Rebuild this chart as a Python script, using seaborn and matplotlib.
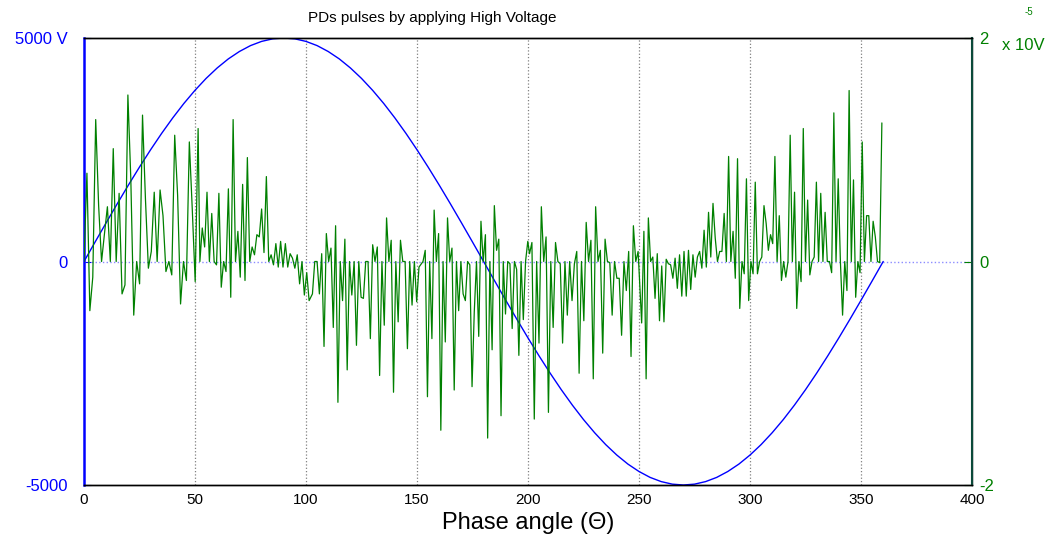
import numpy as np
import pandas as pd
import matplotlib
matplotlib.use('Agg')
import matplotlib.pyplot as plt
import seaborn as sns

# applied high voltage, read every 5 degrees (V)
hv_phase = np.arange(0, 361, 5)
hv_volts = [0, 436, 868, 1294, 1710, 2113, 2500, 2868, 3214, 3536, 3830, 4096, 4330,
            4532, 4698, 4830, 4924, 4981, 5000, 4981, 4924, 4830, 4698, 4532, 4330,
            4096, 3830, 3536, 3214, 2868, 2500, 2113, 1710, 1294, 868, 436, 0,
            -436, -868, -1294, -1710, -2113, -2500, -2868, -3214, -3536, -3830, -4096,
            -4330, -4532, -4698, -4830, -4924, -4981, -5000, -4981, -4924, -4830, -4698,
            -4532, -4330, -4096, -3830, -3536, -3214, -2868, -2500, -2113, -1710, -1294,
            -868, -436, 0]

# PD pulses (x 1e-5 V), read in chunks; each chunk has its phase span
pd_spans = [(0, 51.4), (52.2, 101.4), (102.9, 150.9), (152.7, 199.9),
            (200.7, 249.6), (251.2, 299.4), (300.4, 359.4)]
pd_chunk1 = [0, 0.79, -0.44, -0.14, 1.27, 0.5, 0, 0.25, 0.49, 0, 1.01, 0, 0.61, -0.29,
             -0.21, 1.49, 0.74, -0.48, 0, -0.2, 1.31, 0.56, -0.06, 0.09, 0.62, 0, 0.64,
             0.41, -0.09, 0, -0.12, 1.13, 0.59, -0.38, 0, -0.17, 1.07, 0.47, -0.18, 1.19]
pd_chunk2 = [0, 0.3, 0.13, 0.62, 0, 0.43, 0, -0.03, 0.61, -0.23, 0, -0.09, 0.65, -0.32,
             1.27, 0, 0.27, -0.14, 0.69, -0.17, 0.93, 0, 0.13, 0.06, 0.24, 0.22, 0.47,
             0.08, 0.76, 0, 0.06, -0.03, 0.16, -0.05, 0.18, -0.05, 0.16, -0.05, 0.07,
             0.03, -0.06, 0.06, -0.2, 0, -0.3, -0.1, -0.35]
pd_chunk3 = [-0.29, 0, 0, -0.29, 0.07, -0.76, 0.25, 0, 0.12, -0.59, 0.32, -1.26, 0, -0.35,
             0.2, -0.97, 0, -0.3, 0, -0.75, 0, -0.32, -0.33, 0, 0, -0.69, 0.15, 0, 0.13,
             -1.02, 0, -0.57, 0.39, 0, 0.19, -1.17, 0, -0.54, 0.19, 0, 0, -0.78, 0,
             -0.39, 0, -0.36, -0.05]
pd_chunk4 = [0, 0.1, -1.21, 0, -0.69, 0.46, 0, 0.25, -1.51, 0, -0.72, 0.39, 0, 0.12,
             -1.15, 0, -0.44, 0, -0.29, -0.35, 0, -0.03, -1.12, -0.45, 0, -0.67, 0.36, 0,
             0.24, -1.58, 0, -0.79, 0.5, 0.1, 0.2, -1.38, 0, -0.47, 0, -0.02, -0.6, 0,
             -0.07, -0.84, 0, -0.52, 0, 0.18]
pd_chunk5 = [0.07, 0.17, -1.41, 0, -0.73, 0.49, 0, 0.22, -1.35, 0, -0.59, 0.17, 0, -0.02,
             -0.73, 0, -0.48, 0, -0.35, -0.02, 0.09, -1.0, 0, -0.53, 0.35, 0, 0.19, -1.05,
             0.49, 0, 0.1, -0.82, 0.2, 0, -0.01, -0.48, 0, -0.15, -0.15, -0.66, 0, -0.26,
             0.09, -0.85, 0.32, 0, 0.09]
pd_chunk6 = [-0.55, 0.27, -1.05, 0.39, 0, 0.04, -0.33, 0.07, -0.53, -0.04, -0.54, 0.02,
             -0.02, -0.03, -0.15, 0.03, -0.24, 0.06, -0.31, 0.09, -0.31, 0.1, -0.25, 0.06,
             -0.14, 0.04, 0.09, -0.06, 0.28, -0.05, 0.44, 0.04, 0.52, 0.21, 0, 0.09, 0.09,
             0.43, 0, 0.94, 0, 0.27, -0.15, 0.92, -0.42, 0, -0.11, 0.74, -0.35]
pd_chunk7 = [0, -0.11, 0.71, -0.11, 0, 0.04, 0.5, 0.34, 0.1, 0.24, 0.16, 0.94, 0, 0.41,
             -0.17, 0, -0.14, 0, 1.13, 0, 0.62, -0.42, 0, -0.18, 1.19, 0, 0.55, -0.12, 0,
             0.04, 0.71, 0, 0.61, 0, 0.44, 0, 0, -0.1, 1.33, 0, 0.74, 0, -0.48, 0, -0.26,
             1.53, 0, 0.73, -0.32, 0, -0.1, 1.07, 0, 0.41, 0.41, 0, 0.36, 0.22, 0, -0.01,
             1.24]
pd_chunks = [pd_chunk1, pd_chunk2, pd_chunk3, pd_chunk4, pd_chunk5, pd_chunk6, pd_chunk7]

xticks = list(range(0, 401, 50))
left_ticks = [-5000, 0, 5000]
left_labels = ['-5000', '0', '5000 V']
right_ticks = [-2, 0, 2]
right_labels = ['-2', '0', '2']

blue = '#0000ff'
green = '#008000'

hv = pd.DataFrame({'phase': hv_phase, 'volts': hv_volts})
pd_phase = np.concatenate([np.linspace(a, b, len(c)) for (a, b), c in zip(pd_spans, pd_chunks)])
pulses = pd.DataFrame({'phase': pd_phase, 'pd': np.concatenate(pd_chunks)})

sns.set_style('white')
plt.rcParams['font.family'] = ['Liberation Sans', 'DejaVu Sans']
plt.rcParams['text.color'] = 'black'
plt.rcParams['axes.labelcolor'] = 'black'

fig = plt.figure(figsize=(10.47, 5.35), dpi=100)
ax = fig.add_axes([84 / 1047, 1 - 485 / 535, (972 - 84) / 1047, (485 - 38) / 535])
ax2 = ax.twinx()

for g in xticks[1:-1]:
    ax.axvline(g, color='#808080', ls=':', lw=0.9, zorder=0)
ax.axhline(0, color='#8c8cff', ls=':', lw=1.0, zorder=1)

sns.lineplot(data=hv, x='phase', y='volts', ax=ax, color=blue, lw=1.0,
             estimator=None, sort=False)
sns.lineplot(data=pulses, x='phase', y='pd', ax=ax2, color=green, lw=0.9,
             estimator=None, sort=False)

ax.set_xlim(0, 400)
ax.set_ylim(-5000, 5000)
ax2.set_ylim(-2, 2)
ax.set_xticks(xticks)
ax.set_yticks(left_ticks)
ax.set_yticklabels(left_labels)
ax2.set_yticks(right_ticks)
ax2.set_yticklabels(right_labels)

ax.tick_params(axis='x', direction='in', length=5, labelsize=11, colors='black', pad=6)
ax.tick_params(axis='y', direction='in', length=5, labelsize=12, colors=blue, pad=12)
ax2.tick_params(axis='y', direction='in', length=6, labelsize=12, colors=green, pad=5)

ax.set_xlabel('Phase angle (Θ)', fontsize=17, labelpad=3)
ax.set_ylabel('')
ax2.set_ylabel('')

for a in (ax, ax2):
    for s in a.spines.values():
        s.set_color('black')
        s.set_linewidth(1.0)
ax.spines['left'].set_color(blue)
ax.spines['left'].set_linewidth(1.8)
ax2.spines['left'].set_visible(False)
ax2.spines['right'].set_color('#0b4a3a')
ax2.spines['right'].set_linewidth(1.5)

fig.text(432 / 1047, 1 - 18 / 535, 'PDs pulses by applying High Voltage',
         ha='center', va='center', fontsize=11)
fig.text(1023 / 1047, 1 - 46 / 535, 'x 10V', color=green, ha='center', va='center', fontsize=12)
fig.text(1029 / 1047, 1 - 12 / 535, '-5', color=green, ha='center', va='center', fontsize=7)

fig.savefig('out.png', dpi=100)
